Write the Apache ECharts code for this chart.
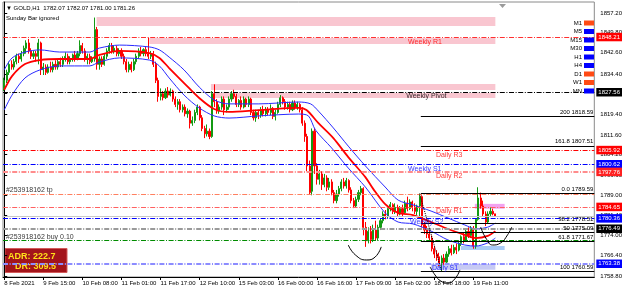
<!DOCTYPE html>
<html><head><meta charset="utf-8">
<script src="https://cdn.jsdelivr.net/npm/echarts@6/dist/echarts.min.js"></script>
<style>html,body{margin:0;padding:0;background:#fff}#c{width:625px;height:290px}</style>
</head><body><div id="c"></div>
<script>
// ---------- DATA ----------
const TOTAL_SLOTS = 242;          // bar slots incl. chart shift space
const Y_MIN = 1758.43, Y_MAX = 1861.32;
const tickLabels = [[0,'8 Feb 2021'],[16,'9 Feb 15:00'],[32,'10 Feb 08:00'],[48,'11 Feb 01:00'],[64,'11 Feb 17:00'],[80,'12 Feb 10:00'],[96,'15 Feb 03:00'],[112,'16 Feb 00:00'],[128,'16 Feb 16:00'],[144,'17 Feb 09:00'],[160,'18 Feb 02:00'],[176,'18 Feb 18:00'],[192,'19 Feb 11:00']];
const priceTicks = [1758.80,1766.40,1774.00,1781.40,1789.00,1796.60,1804.20,1811.60,1819.40,1827.00,1834.40,1842.60,1849.80,1857.20];
// [open, close, low, high]
const candleData = [
[1829,1832,1828,1833],[1832,1835,1831,1836],[1835,1838,1834,1839],[1838,1837,1836,1839.5],[1837,1839,1836,1840],
[1839,1841,1838,1842],[1841,1840,1838.5,1842],[1840,1842,1839,1843],[1842,1844,1841,1845],[1844,1846,1842,1847],
[1846,1843,1842,1847.5],[1843,1841,1840,1844],[1841,1842,1840,1843],[1842,1841,1839,1843],[1841,1846,1838,1847.5],
[1846,1836,1834,1846.5],[1836,1837,1834,1838.5],[1837,1835,1834,1838],[1835,1837,1834.5,1838],[1837,1836,1835,1839],
[1836,1838,1835,1839],[1838,1837,1836,1839.5],[1837,1839,1836,1840],[1839,1838,1837,1840.5],[1838,1840,1837,1841],
[1840,1841,1839,1842.5],[1841,1839,1838,1842],[1839,1840,1838,1841],[1840,1841.5,1839,1842],[1841.5,1840,1839,1843],
[1840,1842,1839.5,1843],[1842,1845,1841,1847],[1845,1843,1842,1846],[1843,1840,1839,1844],[1840,1841,1838,1842],
[1841,1839,1838,1842],[1839,1840,1838.5,1841],[1840,1851,1839,1855.5],[1851,1838,1836,1852],[1838,1840,1836,1841],
[1840,1838,1837,1841],[1838,1841,1837.5,1842],[1841,1843,1840,1844],[1843,1845,1842,1846],[1845,1843,1842,1846],
[1843,1844,1842,1845],[1844,1842,1841,1845],[1842,1843,1841,1844],[1843,1841,1840,1844],[1841,1839,1838,1842],
[1839,1836,1835,1840],[1836,1838,1835,1839],[1838,1836,1835,1839],[1836,1839,1835.5,1840],[1839,1841,1838,1842],
[1841,1843,1840,1844],[1843,1842,1841,1844.5],[1842,1843.5,1841,1844],[1843.5,1842,1841,1844.5],[1842,1841,1840,1848],
[1841,1842,1840,1843],[1842,1838,1837,1843],[1838,1832,1831,1839],[1832,1826,1824,1833],[1826,1827,1824.5,1829],
[1827,1825.5,1824.5,1828],[1825.5,1828,1825,1829],[1828,1826.5,1825.5,1829.5],[1826.5,1828,1826,1829],[1828,1825,1824,1828.5],
[1825,1823,1822,1826],[1823,1824,1821,1825],[1824,1821,1820,1825],[1821,1822,1820,1823],[1822,1819.5,1818.5,1823],
[1819.5,1820.5,1818,1821.5],[1820.5,1816,1814,1821],[1816,1817,1815,1818.5],[1817,1820,1816,1821],[1820,1822,1819,1823],
[1822,1818,1817,1822.5],[1818,1814,1813,1819],[1814,1812,1810.4,1815],[1812,1813,1811,1815.5],[1813,1811,1810,1814],
[1811,1827,1810.5,1828],[1827,1824,1822,1830.5],[1824,1820.5,1819.5,1825],[1820.5,1822,1819.5,1823],[1822,1825,1821,1826],
[1825,1821,1819,1826],[1821,1822,1820,1823],[1822,1825,1821,1826],[1825,1827,1824,1828],[1827,1826,1825,1828.5],
[1826,1823,1822,1827],[1823,1824.5,1822,1825],[1824.5,1822,1821,1826],[1822,1825,1821.5,1826],[1825,1823,1822,1825.5],
[1823,1825,1822,1826],[1825,1820,1819,1825.5],[1820,1818,1817,1821],[1818,1820,1816.5,1821],[1820,1819,1817.5,1821],
[1819,1821,1818,1822],[1821,1819.5,1818.5,1822.5],[1819.5,1821,1818.5,1822],[1821,1820,1819,1822],[1820,1821.5,1819,1823],
[1821.5,1818.5,1817.5,1822],[1818.5,1820,1817,1821],[1820,1823,1819.5,1824],[1823,1825.5,1822,1826.5],[1825.5,1824,1823,1826],
[1824,1822,1821,1825],[1822,1823,1821,1824],[1823,1821,1820,1824],[1821,1823.5,1820.5,1824.5],[1823.5,1822,1821,1824.5],
[1822,1823,1821,1824],[1823,1821,1820,1823.5],[1821,1816,1815,1822],[1816,1811,1809,1817],[1811,1800,1798,1812],
[1800,1790,1789.5,1802],[1790.5,1813,1789,1814],[1813,1800,1797,1814],[1800,1795,1793,1801],[1795,1797,1793,1798.5],
[1797,1793,1791,1798],[1793,1795.5,1792,1797],[1795.5,1792,1790.5,1796.5],[1792,1794,1791,1795.5],[1794,1790,1789,1795],
[1790,1787,1786,1791],[1787,1789.5,1786,1791],[1789.5,1791.5,1788.5,1792.5],[1791.5,1794,1790.5,1795],[1794,1792.5,1791.5,1795.5],
[1792.5,1794.5,1791.5,1795.5],[1794.5,1791,1790,1795],[1791,1787,1786,1792],[1787,1785,1784.2,1788],[1785,1787.5,1784.5,1788.5],
[1787.5,1790,1786.5,1791],[1790,1791.5,1789,1792.5],[1791.5,1777,1774,1792],[1777,1772,1769.7,1779],[1772,1775.5,1771,1777],
[1775.5,1772.5,1771,1777.5],[1772.5,1776,1771.5,1778],[1776,1773,1772,1779.5],[1773,1777,1772,1778],[1777,1779.5,1776,1780.5],
[1779.5,1782,1778.5,1783],[1782,1781,1780,1783.5],[1781,1784,1780.5,1785],[1784,1785.5,1783,1786.5],[1785.5,1783,1782,1786],
[1783,1784.5,1782,1786],[1784.5,1782,1781,1785.5],[1782,1784,1781.5,1785],[1784,1782.5,1781,1785.5],[1782.5,1786,1782,1787],
[1786,1784,1783,1788.5],[1784,1786.5,1783.5,1787.5],[1786.5,1784.5,1783,1787],[1784.5,1783,1782,1786],[1783,1785,1781.5,1785.5],
[1785,1788.5,1781,1789.59],[1788.5,1778,1777,1789],[1778,1776,1774.5,1779],[1776,1774.5,1773,1777.5],[1774.5,1773,1772,1776],
[1773,1769,1768,1774],[1769,1767,1765.5,1770],[1767,1766,1764.5,1768.5],[1766,1763.5,1762.5,1767.5],[1763.5,1765.5,1760.59,1766.5],
[1765.5,1764,1763,1767],[1764,1767,1763.5,1768],[1767,1769,1766,1770],[1769,1767.5,1766.5,1770.5],[1767.5,1769.5,1767,1770.5],
[1769.5,1768.5,1767,1771],[1768.5,1771,1768,1772],[1771,1773.5,1770,1774],[1773.5,1772,1771,1775],[1772,1775.5,1771.5,1776],
[1775.5,1774,1773,1777],[1774,1776.5,1773,1777.5],[1776.5,1770,1769,1777.5],[1770,1780,1769,1780.5],[1780,1788,1779.5,1792],
[1788,1785,1784,1790],[1785,1782,1781,1787],[1782,1779,1777.5,1783],[1779,1782,1778.5,1783],[1782,1783,1781,1784.5],
[1783,1782.07,1781.5,1784],[1782.07,1781.26,1781.00,1782.07]
];
// moving average and envelope readings: [bar, price]
const maRed = [[0,1828.4],[3.2,1833.6],[8.5,1838.1],[14.6,1839.6],[22.7,1840.0],[35,1840.0],[39,1841.5],[47.2,1843.0],[59.4,1842.2],[63.5,1840.4],[67.5,1836.6],[73.6,1831.0],[79.8,1825.4],[85.9,1821.3],[92,1820.2],[104.2,1820.9],[120.5,1821.7],[123.7,1820.9],[128.6,1816.0],[134.7,1810.4],[140.8,1803.3],[147.8,1795.8],[151,1791.4],[155.9,1785.7],[161.2,1782.4],[167.3,1781.6],[174.7,1779.0],[181.6,1776.4],[188.5,1774.2],[193,1773.0],[197.9,1773.8],[201,1775.6]];
const bandUpper = [[0,1835.9],[3.2,1840.4],[8.5,1842.6],[14.6,1843.4],[22.7,1842.6],[35,1842.6],[39,1844.1],[47.2,1845.2],[59.4,1844.5],[63.5,1843.4],[67.5,1840.7],[73.6,1835.9],[79.8,1829.5],[85.9,1824.7],[92,1823.2],[104.2,1823.2],[120.5,1823.9],[125.4,1823.2],[128.6,1820.5],[134.7,1814.2],[140.8,1807.4],[147.8,1800.0],[155.9,1792.1],[161.2,1787.2],[167.3,1785.4],[174.7,1783.1],[181.6,1780.5],[188.5,1777.9],[193,1776.4],[197.9,1777.1],[201,1778.6]];
const bandLower = [[0,1820.9],[3.2,1826.5],[8.5,1832.9],[14.6,1835.9],[22.7,1837.4],[35,1837.4],[39,1838.9],[47.2,1840.4],[59.4,1839.6],[63.5,1837.4],[67.5,1832.9],[73.6,1826.5],[79.8,1821.7],[85.9,1818.7],[92,1817.9],[104.2,1818.7],[120.5,1819.4],[124.5,1818.7],[127.4,1813.4],[134,1806.7],[140.8,1799.2],[147.8,1792.1],[155.9,1782.4],[161.2,1779.0],[167.3,1778.3],[174.7,1775.6],[181.6,1772.3],[188.5,1770.4],[193,1770.0],[197.9,1771.2],[201,1773.0]];
// horizontal levels (price)
const levelWeeklyR1 = 1848.21, levelWeeklyPivot = 1827.56, levelDailyR3 = 1805.92, levelWeeklyS1 = 1800.62,
      levelDailyR2 = 1797.76, levelOrderTp = 1789.40, levelDailyR1 = 1784.65, levelBid = 1781.26,
      levelWeeklyS2 = 1780.36, levelDailyPivot = 1776.49, levelOrderOpen = 1772.25, levelDailyS1 = 1763.38;
// fibonacci: [label, price]
const fibStartBar = 170.5, fibHighBar = 170, fibLowBar = 179;
const fibLevels = [['200 1818.59',1818.59],['161.8 1807.51',1807.51],['0.0 1789.59',1789.59],['38.2 1778.51',1778.51],['50 1775.09',1775.09],['61.8 1771.67',1771.67],['100 1760.59',1760.59]];
// zones: [startBar, endBar, lowPrice, highPrice]
const pinkZones = [[37.8,201,1852.3,1855.7],[59.4,201,1845.6,1847.85],[84.6,201,1828.4,1830.6],[84.6,201,1825.4,1827.3]];
const orchidZone = [192.6,204.8,1784.0,1785.8];
const blueZone = [186.9,204.8,1768.5,1770.0];
const lavenderZone = [174.7,201,1761.1,1763.3];
// hand drawn curves: [bar, price]
const drawA = [[140.8,1770.4],[143.7,1766.7],[148.2,1764.8],[151.8,1765.9],[154.3,1769.7]];
const drawB = [[174.3,1762.2],[176.3,1759.2],[178.7,1756.9],[181.6,1756.2],[184.4,1757.7],[186.5,1761.1]];
const drawC = [[195,1777.1],[197.1,1773.0],[199.9,1770.4],[203.2,1771.2],[206,1774.2],[207.7,1777.1]];
// text annotations: [text, bar, price]
const notes = [['Weekly R1',165.3,1846.35],['Weekly Pivot',164.5,1826.15],['Daily R3',176.7,1804.1],['Weekly S1',165.3,1798.8],['Daily R2',176.7,1796.2],['Daily R1',176.7,1783.1],['Weekly S2',166.1,1779.0],['Daily S1',175.1,1761.8],['#253918162 tp',0.7,1791.0],['#253918162 buy 0.10',0.7,1773.4]];
const headerText = '\u25BC GOLD,H1  1782.07 1782.07 1781.00 1781.26';
const adrValue = '222.7', drValue = '309.5';
const tfNames = ['M1','M5','M15','M30','H1','H4','D1','W1','MN'];
const tfSignals = ['down','up','up','up','up','up','down','down','up'];

// ---------- STYLE / BUILD ----------
const FONT = '"Liberation Sans", Arial, sans-serif';
const DD = [5,1.6,1,1.6];
const noteColors = {'Weekly R1':'#ff0000','Weekly Pivot':'#000','Daily R3':'#ff0000','Weekly S1':'#0000ff','Daily R2':'#ff0000','Daily R1':'#ff0000','Weekly S2':'#0000ff','Daily S1':'#0000ff','#253918162 tp':'#000','#253918162 buy 0.10':'#000'};
function lvl(v, color, width, type, tagBg){
  const o = {yAxis: v, lineStyle:{color, width, type}};
  if (tagBg) o.label = {show:true, position:'end', distance:2, formatter: v.toFixed(2), backgroundColor: tagBg, color:'#fff', fontSize:6, fontFamily:FONT, padding:[1.5,2,1,2]};
  else o.label = {show:false};
  return o;
}
const levelLines = [
  lvl(levelWeeklyR1,'#ff3030',1,DD,'#ff0000'),
  lvl(levelWeeklyPivot,'#000000',1,DD,'#000000'),
  lvl(levelDailyR3,'#ff0000',1,DD,'#ff0000'),
  lvl(levelWeeklyS1,'#0000ff',1,DD,'#0000ff'),
  lvl(levelDailyR2,'#ff8c8c',2,DD,'#ff2020'),
  lvl(levelOrderTp,'#ff8060',1,DD,null),
  lvl(levelDailyR1,'#ff6060',1,DD,'#ff0000'),
  lvl(levelBid,'#c8c8c8',1,'solid',null),
  lvl(levelWeeklyS2,'#0000ff',1,DD,'#0000ff'),
  lvl(levelDailyPivot,'#9a9a9a',2,DD,'#000000'),
  lvl(levelOrderOpen,'#008c00',1,DD,null),
  lvl(levelDailyS1,'#8c8cff',2,DD,'#0000ff')
];
const fibLines = fibLevels.map(f => [{coord:[fibStartBar,f[1]], label:{formatter:f[0]}},{coord:[TOTAL_SLOTS-0.5,f[1]]}]);
fibLines.push([{coord:[fibHighBar,1789.59], lineStyle:{type:'dotted',width:1,color:'#000'}, label:{show:false}},{coord:[fibLowBar,1760.59]}]);
function zoneItem(z,color){return [{coord:[z[0],z[3]], itemStyle:{color}},{coord:[z[1],z[2]]}];}
const zones = pinkZones.map(z=>zoneItem(z,'#f9c6d0')).concat([zoneItem(orchidZone,'#f2a2f0'),zoneItem(blueZone,'#a9cbf5'),zoneItem(lavenderZone,'#c6c9f4')]);
const tickIdx = new Set(tickLabels.map(t=>t[0]));
const tickMap = Object.fromEntries(tickLabels);
const categories = Array.from({length: TOTAL_SLOTS}, (_, i) => String(i));

const graphics = [
  {type:'text', x:6, y:8, style:{text:headerText, fill:'#000', font:'6px '+FONT, verticalAlign:'middle'}},
  {type:'text', x:6, y:18, style:{text:'Sunday Bar ignored', fill:'#000', font:'6px '+FONT, verticalAlign:'middle'}},
  {type:'rect', shape:{x:5,y:248.5,width:62,height:24}, style:{fill:'#a3141b', stroke:'#d35a5a', lineWidth:1}},
  {type:'text', x:8, y:257, style:{text:'ADR: '+adrValue, fill:'#ffe11a', font:'bold 9px '+FONT, verticalAlign:'middle'}},
  {type:'text', x:15, y:267, style:{text:'DR: '+drValue, fill:'#ffe11a', font:'bold 9px '+FONT, verticalAlign:'middle'}},
  {type:'polygon', shape:{points:[[499,4],[506,4],[502.5,8]]}, style:{fill:'#9a9a9a'}}
];
tfNames.forEach((n,k)=>{
  const y = 23 + k*8.5;
  graphics.push({type:'text', x:582, y:y, style:{text:n, fill:'#000', font:'6px '+FONT, align:'right', verticalAlign:'middle'}, z:100});
  graphics.push({type:'rect', shape:{x:584,y:y-2.5,width:10,height:5}, style:{fill: tfSignals[k]==='up' ? '#0000ff' : '#ff4a14'}, z:100});
});

const chart = echarts.init(document.getElementById('c'), null, {renderer:'canvas'});
chart.setOption({
  animation:false,
  backgroundColor:'#ffffff',
  grid:{left:3,right:28,top:2,bottom:13,show:true,borderColor:'#8a8a8a',borderWidth:1},
  xAxis:[
    {type:'category', data:categories, boundaryGap:true,
     axisLine:{show:true,lineStyle:{color:'#000'}},
     axisTick:{show:true, interval:(i)=>tickIdx.has(i), alignWithLabel:true, length:3, lineStyle:{color:'#000'}},
     axisLabel:{show:true, interval:(i)=>tickIdx.has(i), formatter:(v,i)=>tickMap[i]||'', align:'left', fontSize:6, fontFamily:FONT, color:'#000', margin:3, hideOverlap:false},
     splitLine:{show:false}},
    {type:'value', min:-0.5, max:TOTAL_SLOTS-0.5, show:false}
  ],
  yAxis:[{type:'value', position:'right', min:Y_MIN, max:Y_MAX, scale:true,
    axisLine:{show:true,lineStyle:{color:'#000'}},
    axisTick:{show:true, length:3, customValues:priceTicks, lineStyle:{color:'#000'}},
    axisLabel:{show:true, customValues:priceTicks, formatter:(v)=>v.toFixed(2), fontSize:6, fontFamily:FONT, color:'#000', margin:6},
    splitLine:{show:false}}],
  graphic: graphics,
  series:[
    {type:'line', xAxisIndex:1, data:[], z:1, silent:true,
     markArea:{silent:true, data:zones}},
    {type:'line', xAxisIndex:1, data:[], z:2, silent:true,
     markLine:{silent:true, symbol:['none','none'], data:levelLines}},
    {type:'candlestick', xAxisIndex:0, data:candleData, z:3, barWidth:1.6,
     itemStyle:{color:'#139a13', color0:'#ff0000', borderColor:'#139a13', borderColor0:'#ff0000', borderWidth:1}},
    {type:'line', xAxisIndex:1, data:bandUpper, z:4, smooth:0.3, symbol:'none', lineStyle:{color:'#2a2aff', width:1}},
    {type:'line', xAxisIndex:1, data:bandLower, z:4, smooth:0.3, symbol:'none', lineStyle:{color:'#2a2aff', width:1}},
    {type:'line', xAxisIndex:1, data:maRed, z:4, smooth:0.3, symbol:'none', lineStyle:{color:'#ff0000', width:1.8}},
    {type:'line', xAxisIndex:1, data:[], z:5, silent:true,
     markLine:{silent:true, symbol:['none','none'], lineStyle:{color:'#000', width:1, type:'solid'},
       label:{show:true, position:'insideEndTop', distance:[1,1], color:'#000', fontSize:6, fontFamily:FONT},
       data:fibLines}},
    {type:'line', xAxisIndex:1, data:drawA, z:6, smooth:0.5, symbol:'none', clip:false, lineStyle:{color:'#000', width:1}},
    {type:'line', xAxisIndex:1, data:drawB, z:6, smooth:0.5, symbol:'none', clip:false, lineStyle:{color:'#000', width:1}},
    {type:'line', xAxisIndex:1, data:drawC, z:6, smooth:0.5, symbol:'none', clip:false, lineStyle:{color:'#000', width:1}},
    {type:'scatter', xAxisIndex:1, z:7, symbolSize:0, silent:true,
     data: notes.map(n=>({name:n[0], value:[n[1],n[2]], label:{color:noteColors[n[0]]}})),
     label:{show:true, position:'right', distance:0, formatter:(p)=>p.name, fontSize:7, fontFamily:FONT}}
  ]
});
</script></body></html>
